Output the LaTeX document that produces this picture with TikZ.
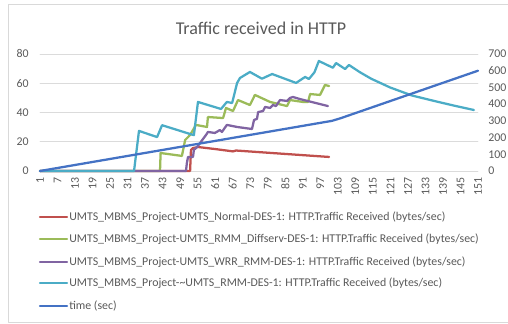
\documentclass[tikz,border=0pt]{standalone}
\usepackage{fontspec}
\setmainfont{Carlito}
\definecolor{colNormal}{RGB}{192,80,77}
\definecolor{colDiffserv}{RGB}{155,187,89}
\definecolor{colWRR}{RGB}{128,100,162}
\definecolor{colRMM}{RGB}{75,172,198}
\definecolor{colTime}{RGB}{68,114,196}
\begin{document}
\begin{tikzpicture}[x=0.75pt, y=0.75pt, line cap=round, line join=round,
  lbl/.style={text=\chartTextColor, inner sep=0pt, font=\fontsize{8.9}{11}\selectfont},
  xtick/.style={lbl, yshift=-4.5pt, rotate=90, anchor=east},
  ltick/.style={lbl, anchor=east, xshift=-8.4pt},
  rtick/.style={lbl, anchor=west, xshift=7.5pt},
  series/.style={line width=1.7pt}]
% Excel line chart redrawn, 1 unit = 1 px of the export
\providecommand{\chartTextColor}{black!65}
\providecommand{\chartGridColor}{black!14}
\providecommand{\chartFrameColor}{black!15}
\useasboundingbox (0,0) rectangle (508,324);
% Chart area frame (right side runs off the export)
\draw[draw=\chartFrameColor, line width=0.75pt] (8,1.5) rectangle (514,319);
% Title
\node[text=\chartTextColor, inner sep=0pt, font=\fontsize{13.5}{16}\selectfont] (title) at (261,296) {Traffic received in HTTP};
% Plot area: x = category, origin shifted so that category 1 sits at px 40
\begin{scope}[shift={(37.08,153)}, x=2.19pt]
  % Primary axis (bytes/sec)
  \begin{scope}[y=1.097pt]
    % Gridlines
    \begin{scope}[draw=\chartGridColor, line width=0.6pt]
      \draw (1,20) -- (151,20);
      \draw (1,40) -- (151,40);
      \draw (1,60) -- (151,60);
      \draw (1,80) -- (151,80);
      \draw (1,0) -- (151,0);
    \end{scope}
    % Left tick labels
    \node[ltick] (yl0) at (1,0) {0};
    \node[ltick] (yl20) at (1,20) {20};
    \node[ltick] (yl40) at (1,40) {40};
    \node[ltick] (yl60) at (1,60) {60};
    \node[ltick] (yl80) at (1,80) {80};
    % Category labels
    \node[xtick] (xt1) at (1,0) {1};
    \node[xtick] (xt7) at (7,0) {7};
    \node[xtick] (xt13) at (13,0) {13};
    \node[xtick] (xt19) at (19,0) {19};
    \node[xtick] (xt25) at (25,0) {25};
    \node[xtick] (xt31) at (31,0) {31};
    \node[xtick] (xt37) at (37,0) {37};
    \node[xtick] (xt43) at (43,0) {43};
    \node[xtick] (xt49) at (49,0) {49};
    \node[xtick] (xt55) at (55,0) {55};
    \node[xtick] (xt61) at (61,0) {61};
    \node[xtick] (xt67) at (67,0) {67};
    \node[xtick] (xt73) at (73,0) {73};
    \node[xtick] (xt79) at (79,0) {79};
    \node[xtick] (xt85) at (85,0) {85};
    \node[xtick] (xt91) at (91,0) {91};
    \node[xtick] (xt97) at (97,0) {97};
    \node[xtick] (xt103) at (103,0) {103};
    \node[xtick] (xt109) at (109,0) {109};
    \node[xtick] (xt115) at (115,0) {115};
    \node[xtick] (xt121) at (121,0) {121};
    \node[xtick] (xt127) at (127,0) {127};
    \node[xtick] (xt133) at (133,0) {133};
    \node[xtick] (xt139) at (139,0) {139};
    \node[xtick] (xt145) at (145,0) {145};
    \node[xtick] (xt151) at (151,0) {151};
    % Normal
    \draw[series, draw=colNormal] (1,0) -- (52.4,0) -- (52.7,14.4) -- (53.4,15.7) -- (55.1,16.4) -- (61,15) -- (67.1,13.4) -- (68.1,14) -- (84,11.8) -- (100,9.6);
    % RMM Diffserv
    \draw[series, draw=colDiffserv] (1,0) -- (42.1,0) -- (42.3,12.3) -- (49.6,10.3) -- (50.7,21.2) -- (52.4,24.6) -- (54.4,31.5) -- (58.2,30.1) -- (58.5,36.9) -- (63.7,36.2) -- (64.7,43.1) -- (67.1,41) -- (68.8,48.5) -- (72.9,45.1) -- (74.6,52) -- (79.8,47.2) -- (85.6,44.4) -- (86.6,48.5) -- (91.1,47.2) -- (92.8,47.2) -- (93.5,52.6) -- (96.9,52) -- (98.6,58.8) -- (100,58.1);
    % WRR RMM
    \draw[series, draw=colWRR] (1,0) -- (51,0) -- (51.3,5.5) -- (51.7,9.6) -- (53.4,9.6) -- (53.7,14.4) -- (54.8,16.4) -- (58.2,25.6) -- (58.5,26.7) -- (60.9,26) -- (62.6,28) -- (63.3,26.7) -- (65,31.5) -- (68.5,30.1) -- (73.6,28.7) -- (74.3,34.9) -- (75.3,35.6) -- (75.7,40.3) -- (77.4,41) -- (78.1,43.8) -- (79.8,43.1) -- (80.8,45.1) -- (81.8,44.4) -- (83.2,48.5) -- (85.6,47.9) -- (86.6,49.9) -- (87.6,50.6) -- (90,49.2) -- (99.6,44.4);
    % RMM
    \draw[series, draw=colRMM] (1,0) -- (33.2,0) -- (34.9,27.4) -- (41.1,23.2) -- (42.8,31.3) -- (52.4,25.3) -- (53.7,24.5) -- (55.1,47.2) -- (63,42.4) -- (65,47.2) -- (66.8,46.5) -- (68.5,60.2) -- (69.5,63.6) -- (72.9,67.7) -- (77,63.1) -- (80.5,66.3) -- (88.7,60.2) -- (91.8,64.3) -- (93.1,62.9) -- (95,67.5) -- (96.5,75.2) -- (101.3,70.6) -- (102.4,73.8) -- (105.5,69.7) -- (106.8,72.5) -- (110.5,67.6) -- (114.4,63.1) -- (120.9,57.1) -- (128.4,51.6) -- (137,47.4) -- (143,44.6) -- (149.6,41.7);
  \end{scope}
  % Secondary axis (sec)
  \begin{scope}[y=0.12536pt]
    \node[rtick] (yr0) at (151,0) {0};
    \node[rtick] (yr100) at (151,100) {100};
    \node[rtick] (yr200) at (151,200) {200};
    \node[rtick] (yr300) at (151,300) {300};
    \node[rtick] (yr400) at (151,400) {400};
    \node[rtick] (yr500) at (151,500) {500};
    \node[rtick] (yr600) at (151,600) {600};
    \node[rtick] (yr700) at (151,700) {700};
    % time
    \draw[series, draw=colTime] (1,0) -- (101,300) -- (104,316) -- (151,600);
  \end{scope}
\end{scope}
% Legend
\node[lbl, anchor=west] (leg1) at (69,107.3) {UMTS\_MBMS\_Project-UMTS\_Normal-DES-1: HTTP.Traffic Received (bytes/sec)};
\node[lbl, anchor=west] (leg2) at (69,84.7) {UMTS\_MBMS\_Project-UMTS\_RMM\_Diffserv-DES-1: HTTP.Traffic Received (bytes/sec)};
\node[lbl, anchor=west] (leg3) at (69,62.3) {UMTS\_MBMS\_Project-UMTS\_WRR\_RMM-DES-1: HTTP.Traffic Received (bytes/sec)};
\node[lbl, anchor=west] (leg4) at (69,40.7) {UMTS\_MBMS\_Project-\textasciitilde UMTS\_RMM-DES-1: HTTP.Traffic Received (bytes/sec)};
\node[lbl, anchor=west] (leg5) at (69,18) {time (sec)};
\draw[series, draw=colNormal] (40,107.3) -- ++(27,0);
\draw[series, draw=colDiffserv] (40,84.7) -- ++(27,0);
\draw[series, draw=colWRR] (40,62.3) -- ++(27,0);
\draw[series, draw=colRMM] (40,40.7) -- ++(27,0);
\draw[series, draw=colTime] (40,18) -- ++(27,0);
\end{tikzpicture}
\end{document}
